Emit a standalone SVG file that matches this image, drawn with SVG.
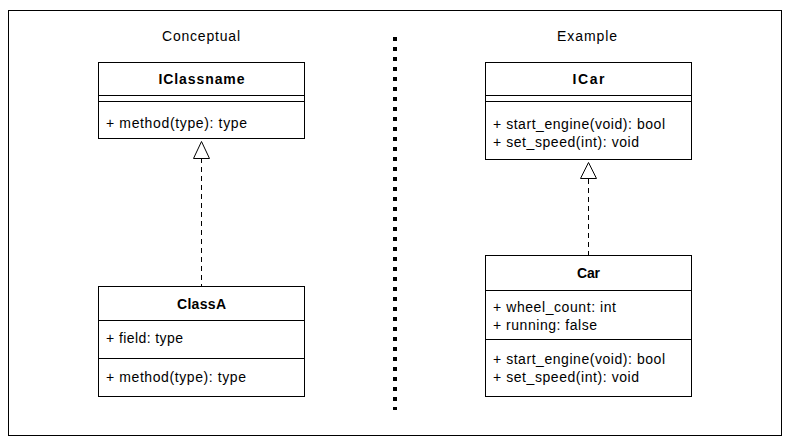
<svg xmlns="http://www.w3.org/2000/svg" width="794" height="445" viewBox="0 0 794 445">
<style>
.box{fill:#fff;stroke:#000;stroke-width:1}
.ln{stroke:#000;stroke-width:1;fill:none}
text{font-family:"Liberation Sans",Arial,sans-serif;font-size:14px;fill:#000}
.t{font-weight:bold;text-anchor:middle}
.h{text-anchor:middle}
.dash{stroke:#000;stroke-width:1;fill:none;stroke-dasharray:5 4}
.tri{fill:#fff;stroke:#000;stroke-width:1}
</style>
<rect x="0" y="0" width="794" height="445" fill="#fff"/>
<rect x="8.5" y="10.5" width="773" height="425" class="ln"/>
<line x1="395" y1="37" x2="395" y2="410" stroke="#000" stroke-width="4" stroke-dasharray="4 6"/>
<text class="h" x="201" y="41" textLength="78" lengthAdjust="spacing">Conceptual</text>
<text class="h" x="587" y="41" textLength="60" lengthAdjust="spacing">Example</text>
<g id="connectors">
<line class="dash" x1="201.5" y1="158" x2="201.5" y2="287"/>
<polygon class="tri" points="201.5,141.5 193.5,158.5 209.5,158.5"/>
<line class="dash" x1="588.5" y1="179" x2="588.5" y2="255"/>
<polygon class="tri" points="588.5,162.5 580.5,178.5 596.5,178.5"/>
</g>
<g id="IClassname">
<rect class="box" x="98.5" y="62.5" width="206" height="76"/>
<line class="ln" x1="98.5" y1="95.5" x2="304.5" y2="95.5"/>
<line class="ln" x1="98.5" y1="101.5" x2="304.5" y2="101.5"/>
<text class="t" x="201.5" y="84" textLength="86" lengthAdjust="spacing">IClassname</text>
<text x="106" y="128" textLength="141" lengthAdjust="spacing">+ method(type): type</text>
</g>
<g id="ClassA">
<rect class="box" x="98.5" y="286.5" width="206" height="110"/>
<line class="ln" x1="98.5" y1="320.5" x2="304.5" y2="320.5"/>
<line class="ln" x1="98.5" y1="358.5" x2="304.5" y2="358.5"/>
<text class="t" x="201.5" y="309" textLength="49" lengthAdjust="spacing">ClassA</text>
<text x="106" y="343" textLength="77" lengthAdjust="spacing">+ field: type</text>
<text x="106" y="382" textLength="140" lengthAdjust="spacing">+ method(type): type</text>
</g>
<g id="ICar">
<rect class="box" x="485.5" y="62.5" width="206" height="97"/>
<line class="ln" x1="485.5" y1="95.5" x2="691.5" y2="95.5"/>
<line class="ln" x1="485.5" y1="101.5" x2="691.5" y2="101.5"/>
<text class="t" x="588.5" y="84" textLength="32" lengthAdjust="spacing">ICar</text>
<text x="493" y="129" textLength="172" lengthAdjust="spacing">+ start_engine(void): bool</text>
<text x="493" y="147" textLength="146" lengthAdjust="spacing">+ set_speed(int): void</text>
</g>
<g id="Car">
<rect class="box" x="485.5" y="255.5" width="206" height="141"/>
<line class="ln" x1="485.5" y1="290.5" x2="691.5" y2="290.5"/>
<line class="ln" x1="485.5" y1="339.5" x2="691.5" y2="339.5"/>
<text class="t" x="588.5" y="278" textLength="23" lengthAdjust="spacing">Car</text>
<text x="493" y="312" textLength="123" lengthAdjust="spacing">+ wheel_count: int</text>
<text x="493" y="330" textLength="104" lengthAdjust="spacing">+ running: false</text>
<text x="493" y="364" textLength="172" lengthAdjust="spacing">+ start_engine(void): bool</text>
<text x="493" y="382" textLength="146" lengthAdjust="spacing">+ set_speed(int): void</text>
</g>
</svg>
